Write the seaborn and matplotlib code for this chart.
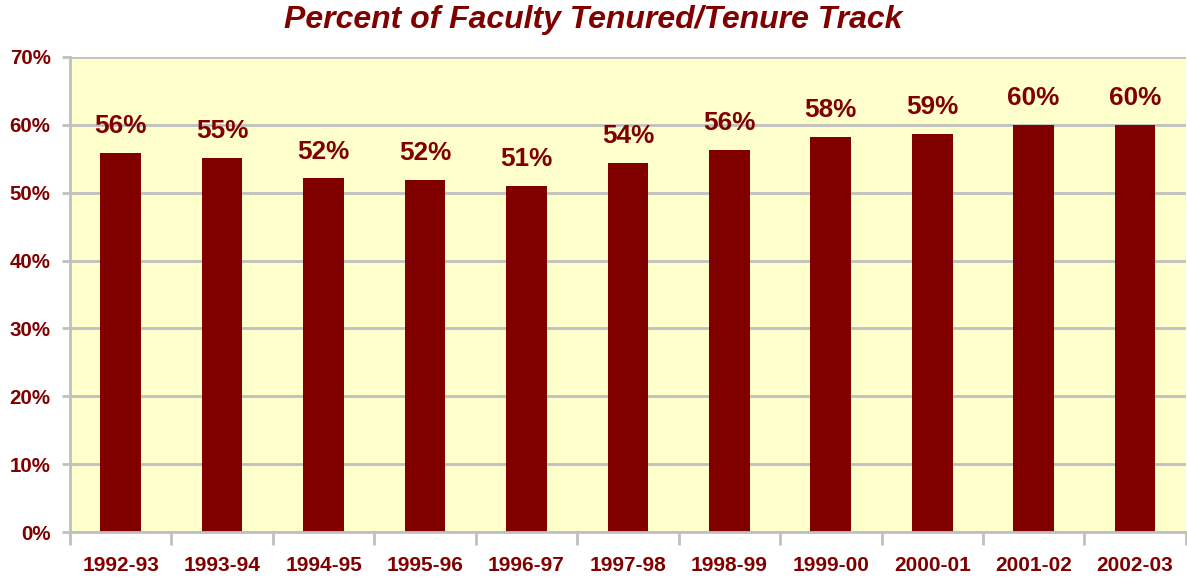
import matplotlib
matplotlib.use("Agg")
import matplotlib.pyplot as plt
import seaborn as sns
import pandas as pd
from matplotlib.ticker import FuncFormatter, MultipleLocator

years = ["1992-93", "1993-94", "1994-95", "1995-96", "1996-97", "1997-98",
         "1998-99", "1999-00", "2000-01", "2001-02", "2002-03"]
percent = [55.9, 55.1, 52.1, 51.9, 51.0, 54.4, 56.3, 58.2, 58.7, 60.0, 60.0]

MAROON = "#800000"
sns.set_theme(style="white")
plt.rcParams['font.family'] = ['Liberation Sans', 'DejaVu Sans']

df = pd.DataFrame({"year": years, "pct": percent})

fig = plt.figure(figsize=(11.87, 5.78), dpi=100)
ax = fig.add_axes([70/1187, 1 - 532/578, 1 - 70/1187 - 0.001, (532-57)/578])
ax.set_facecolor("#FFFFCC")

sns.barplot(data=df, x="year", y="pct", color=MAROON, width=0.4, ax=ax,
            saturation=1, edgecolor="none")

ax.set_ylim(0, 70)
ax.set_xlim(-0.5, len(years) - 0.5)
ax.yaxis.set_major_locator(MultipleLocator(10))
ax.yaxis.set_major_formatter(FuncFormatter(lambda v, p: f"{v:.0f}%"))
ax.grid(axis="y", color="#C0C0C0", linewidth=2)
ax.set_axisbelow(True)
ax.set_xlabel("")
ax.set_ylabel("")

for s in ["top", "right", "bottom"]:
    ax.spines[s].set_visible(False)
ax.spines["left"].set_color("#C0C0C0")
ax.spines["left"].set_linewidth(2)

ax.tick_params(axis="y", which="major", length=6, width=2, color="#C0C0C0",
               labelsize=14.8, labelcolor=MAROON, direction="out", left=True, pad=8)
ax.set_xticks(range(len(years)))
ax.set_xticklabels(years)
ax.tick_params(axis="x", length=0, labelsize=15, labelcolor=MAROON, pad=17)
# boundary ticks between categories
for i in range(len(years) + 1):
    ax.plot([i - 0.5, i - 0.5], [0, -1.9], color="#C0C0C0", lw=2, clip_on=False,
            solid_capstyle="butt")
ax.plot([-0.5, len(years) - 0.5], [0, 0], color="#C0C0C0", lw=2, clip_on=False)

for lab in ax.get_yticklabels() + ax.get_xticklabels():
    lab.set_fontweight("bold")

for i, v in enumerate(percent):
    ax.text(i, v + 2.2, f"{v:.0f}%", ha="center", va="bottom", color=MAROON,
            fontsize=18.8, fontweight="bold")

fig.text(0.5, 1 - 20/578, "Percent of Faculty Tenured/Tenure Track", ha="center",
         va="center", color=MAROON, fontsize=23, fontweight="bold", style="italic")

fig.savefig("out.png", dpi=100, facecolor="white")
